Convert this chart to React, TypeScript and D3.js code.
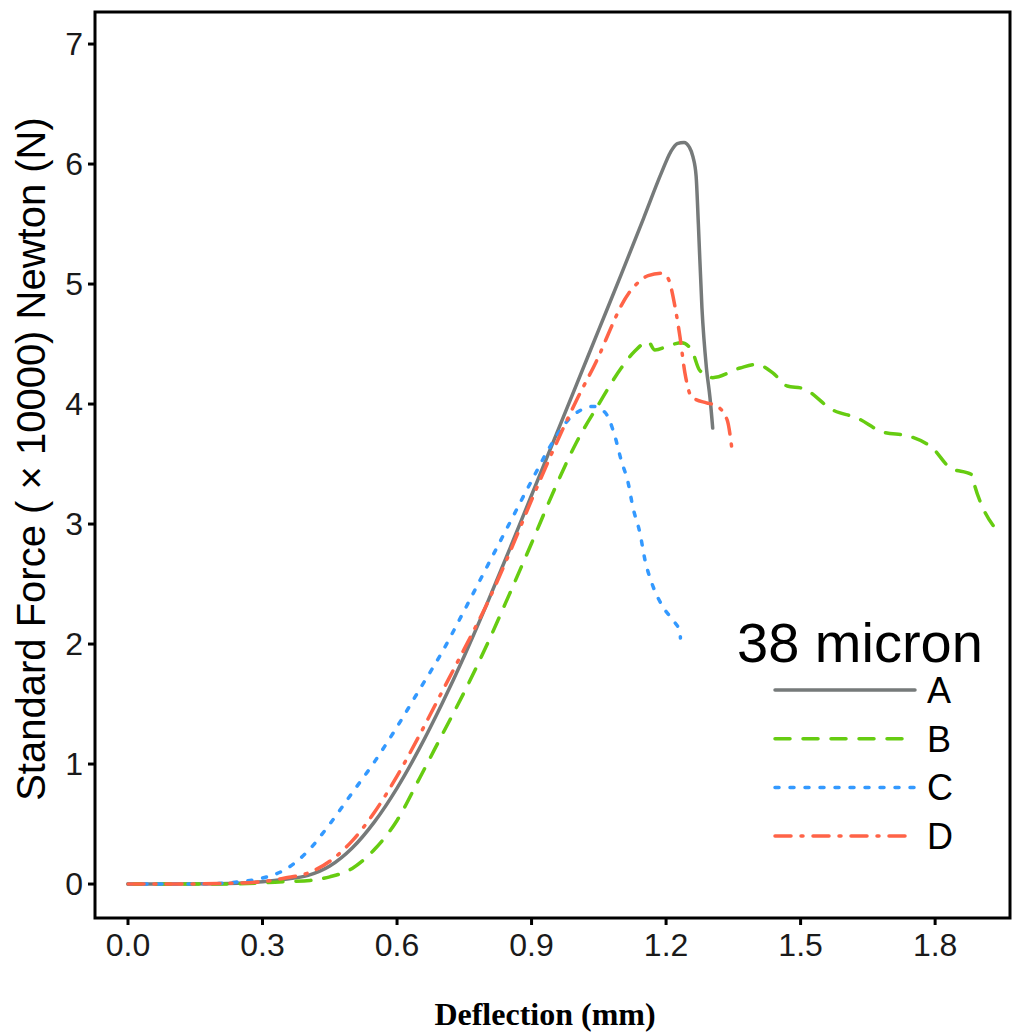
import { useEffect, useRef } from 'react';
import * as d3 from 'd3';

// deflection (mm) / force (x 10000 N)
const seriesNames = ['A', 'B', 'C', 'D'];

const aX = [0, 0.1, 0.2, 0.3, 0.35, 0.4, 0.45, 0.5, 0.55, 0.6, 0.65, 0.7, 0.75, 0.8, 0.85, 0.9, 0.95, 1.0, 1.05, 1.1, 1.15, 1.19, 1.21, 1.225, 1.24, 1.252, 1.26, 1.267, 1.272, 1.28, 1.29, 1.298, 1.304];
const aY = [0, 0, 0.003, 0.02, 0.04, 0.07, 0.15, 0.3, 0.52, 0.8, 1.13, 1.5, 1.9, 2.33, 2.78, 3.24, 3.7, 4.16, 4.62, 5.08, 5.55, 5.93, 6.1, 6.17, 6.18, 6.14, 6.06, 5.9, 5.5, 4.8, 4.3, 4.05, 3.8];

const bX = [0, 0.1, 0.2, 0.3, 0.35, 0.406, 0.45, 0.5, 0.55, 0.6, 0.65, 0.7, 0.75, 0.8, 0.85, 0.9, 0.95, 1.0, 1.05, 1.1, 1.13, 1.16, 1.175, 1.208, 1.235, 1.257, 1.275, 1.304, 1.365, 1.402, 1.438, 1.47, 1.505, 1.572, 1.628, 1.681, 1.744, 1.795, 1.833, 1.882, 1.889, 1.906, 1.937];
const bY = [0, 0, 0, 0.01, 0.02, 0.03, 0.06, 0.13, 0.29, 0.53, 0.88, 1.24, 1.6, 1.99, 2.41, 2.84, 3.28, 3.68, 4.0, 4.3, 4.44, 4.52, 4.45, 4.49, 4.51, 4.45, 4.28, 4.22, 4.3, 4.33, 4.26, 4.15, 4.13, 3.95, 3.88, 3.77, 3.73, 3.63, 3.47, 3.41, 3.31, 3.14, 2.95];

const cX = [0, 0.1, 0.2, 0.25, 0.3, 0.35, 0.4, 0.45, 0.5, 0.55, 0.6, 0.65, 0.7, 0.75, 0.8, 0.85, 0.9, 0.95, 0.985, 1.01, 1.037, 1.064, 1.086, 1.1, 1.115, 1.126, 1.142, 1.153, 1.168, 1.193, 1.215, 1.231, 1.232];
const cY = [0, 0, 0.005, 0.02, 0.05, 0.12, 0.27, 0.5, 0.76, 1.02, 1.31, 1.62, 1.93, 2.28, 2.64, 3.0, 3.36, 3.7, 3.88, 3.95, 3.98, 3.93, 3.73, 3.53, 3.35, 3.14, 2.92, 2.7, 2.51, 2.31, 2.2, 2.1, 2.05];

const dX = [0, 0.1, 0.2, 0.3, 0.35, 0.4, 0.45, 0.5, 0.55, 0.6, 0.65, 0.7, 0.75, 0.8, 0.85, 0.9, 0.95, 1.0, 1.05, 1.08, 1.1, 1.12, 1.14, 1.16, 1.19, 1.204, 1.22, 1.231, 1.242, 1.257, 1.29, 1.31, 1.336, 1.347];
const dY = [0, 0, 0.004, 0.02, 0.05, 0.09, 0.19, 0.36, 0.6, 0.9, 1.24, 1.6, 1.96, 2.33, 2.75, 3.2, 3.63, 4.03, 4.4, 4.66, 4.82, 4.94, 5.02, 5.07, 5.09, 5.05, 4.81, 4.56, 4.26, 4.06, 4.01, 3.99, 3.87, 3.62];

const xTicks = [0, 0.3, 0.6, 0.9, 1.2, 1.5, 1.8];
const yTicks = [0, 1, 2, 3, 4, 5, 6, 7];

const colors = ['#767a7a', '#66cc11', '#3399ff', '#ff6347'];
const dashes = ['none', '15,13', '4,11', '16,10,2,10'];

export default function App() {
  const svgRef = useRef<SVGSVGElement>(null);

  useEffect(() => {
    if (!svgRef.current) return;
    const m = { left: 95, right: 1010, top: 12, bottom: 918 };

    const svg = d3.select(svgRef.current);
    svg.selectAll('*').remove();

    const x = d3.scaleLinear().domain([-0.0736, 1.967]).range([m.left, m.right]);
    const y = d3.scaleLinear().domain([-0.283, 7.267]).range([m.bottom, m.top]);

    const data = [
      d3.zip(aX, aY),
      d3.zip(bX, bY),
      d3.zip(cX, cY),
      d3.zip(dX, dY),
    ];

    const line = d3.line<number[]>()
      .x(d => x(d[0]))
      .y(d => y(d[1]))
      .curve(d3.curveMonotoneX);

    // curves
    data.forEach((pts, i) => {
      svg.append('path')
        .attr('d', line(pts))
        .attr('fill', 'none')
        .attr('stroke', colors[i])
        .attr('stroke-width', 3.5)
        .attr('stroke-linecap', 'round')
        .attr('stroke-linejoin', 'round')
        .attr('stroke-dasharray', dashes[i]);
    });

    // frame
    svg.append('rect')
      .attr('x', m.left)
      .attr('y', m.top)
      .attr('width', m.right - m.left)
      .attr('height', m.bottom - m.top)
      .attr('fill', 'none')
      .attr('stroke', '#000')
      .attr('stroke-width', 3);

    const font = "Arial, 'Liberation Sans', sans-serif";

    // x axis
    const xg = svg.append('g');
    xTicks.forEach(t => {
      xg.append('line')
        .attr('x1', x(t)).attr('x2', x(t))
        .attr('y1', m.bottom).attr('y2', m.bottom + 7)
        .attr('stroke', '#000').attr('stroke-width', 3);
      xg.append('text')
        .attr('x', x(t))
        .attr('y', m.bottom + 38)
        .attr('text-anchor', 'middle')
        .attr('font-family', font)
        .attr('font-size', 32)
        .attr('fill', '#1a1a1a')
        .text(d3.format('.1f')(t));
    });

    // y axis
    const yg = svg.append('g');
    yTicks.forEach(t => {
      yg.append('line')
        .attr('x1', m.left - 7).attr('x2', m.left)
        .attr('y1', y(t)).attr('y2', y(t))
        .attr('stroke', '#000').attr('stroke-width', 3);
      yg.append('text')
        .attr('x', m.left - 12)
        .attr('y', y(t) + 11)
        .attr('text-anchor', 'end')
        .attr('font-family', font)
        .attr('font-size', 32)
        .attr('fill', '#1a1a1a')
        .text(t);
    });

    // axis titles
    svg.append('text')
      .attr('x', 545)
      .attr('y', 1025)
      .attr('text-anchor', 'middle')
      .attr('font-family', "'Times New Roman', 'Liberation Serif', serif")
      .attr('font-weight', 'bold')
      .attr('font-size', 32)
      .attr('fill', '#000')
      .text('Deflection (mm)');

    svg.append('text')
      .attr('transform', `translate(45, ${(m.top + m.bottom) / 2 - 6}) rotate(-90)`)
      .attr('text-anchor', 'middle')
      .attr('font-family', font)
      .attr('font-size', 40)
      .attr('fill', '#000')
      .text('Standard Force ( \u00d7 10000) Newton (N)');

    // legend
    const lg = svg.append('g');
    lg.append('text')
      .attr('x', 737)
      .attr('y', 662)
      .attr('font-family', font)
      .attr('font-size', 56)
      .attr('fill', '#000')
      .text('38 micron');

    seriesNames.forEach((name, i) => {
      const ly = 690 + i * 48.7;
      lg.append('line')
        .attr('x1', 775).attr('x2', 915)
        .attr('y1', ly).attr('y2', ly)
        .attr('stroke', colors[i])
        .attr('stroke-width', 3.5)
        .attr('stroke-linecap', 'round')
        .attr('stroke-dasharray', dashes[i]);
      lg.append('text')
        .attr('x', 927)
        .attr('y', ly + 13)
        .attr('font-family', font)
        .attr('font-size', 36)
        .attr('fill', '#000')
        .text(name);
    });
  }, []);

  return (
    <svg
      ref={svgRef}
      width={1013}
      height={1035}
      style={{ position: 'absolute', left: 0, top: 0, display: 'block', background: '#fff' }}
    />
  );
}
